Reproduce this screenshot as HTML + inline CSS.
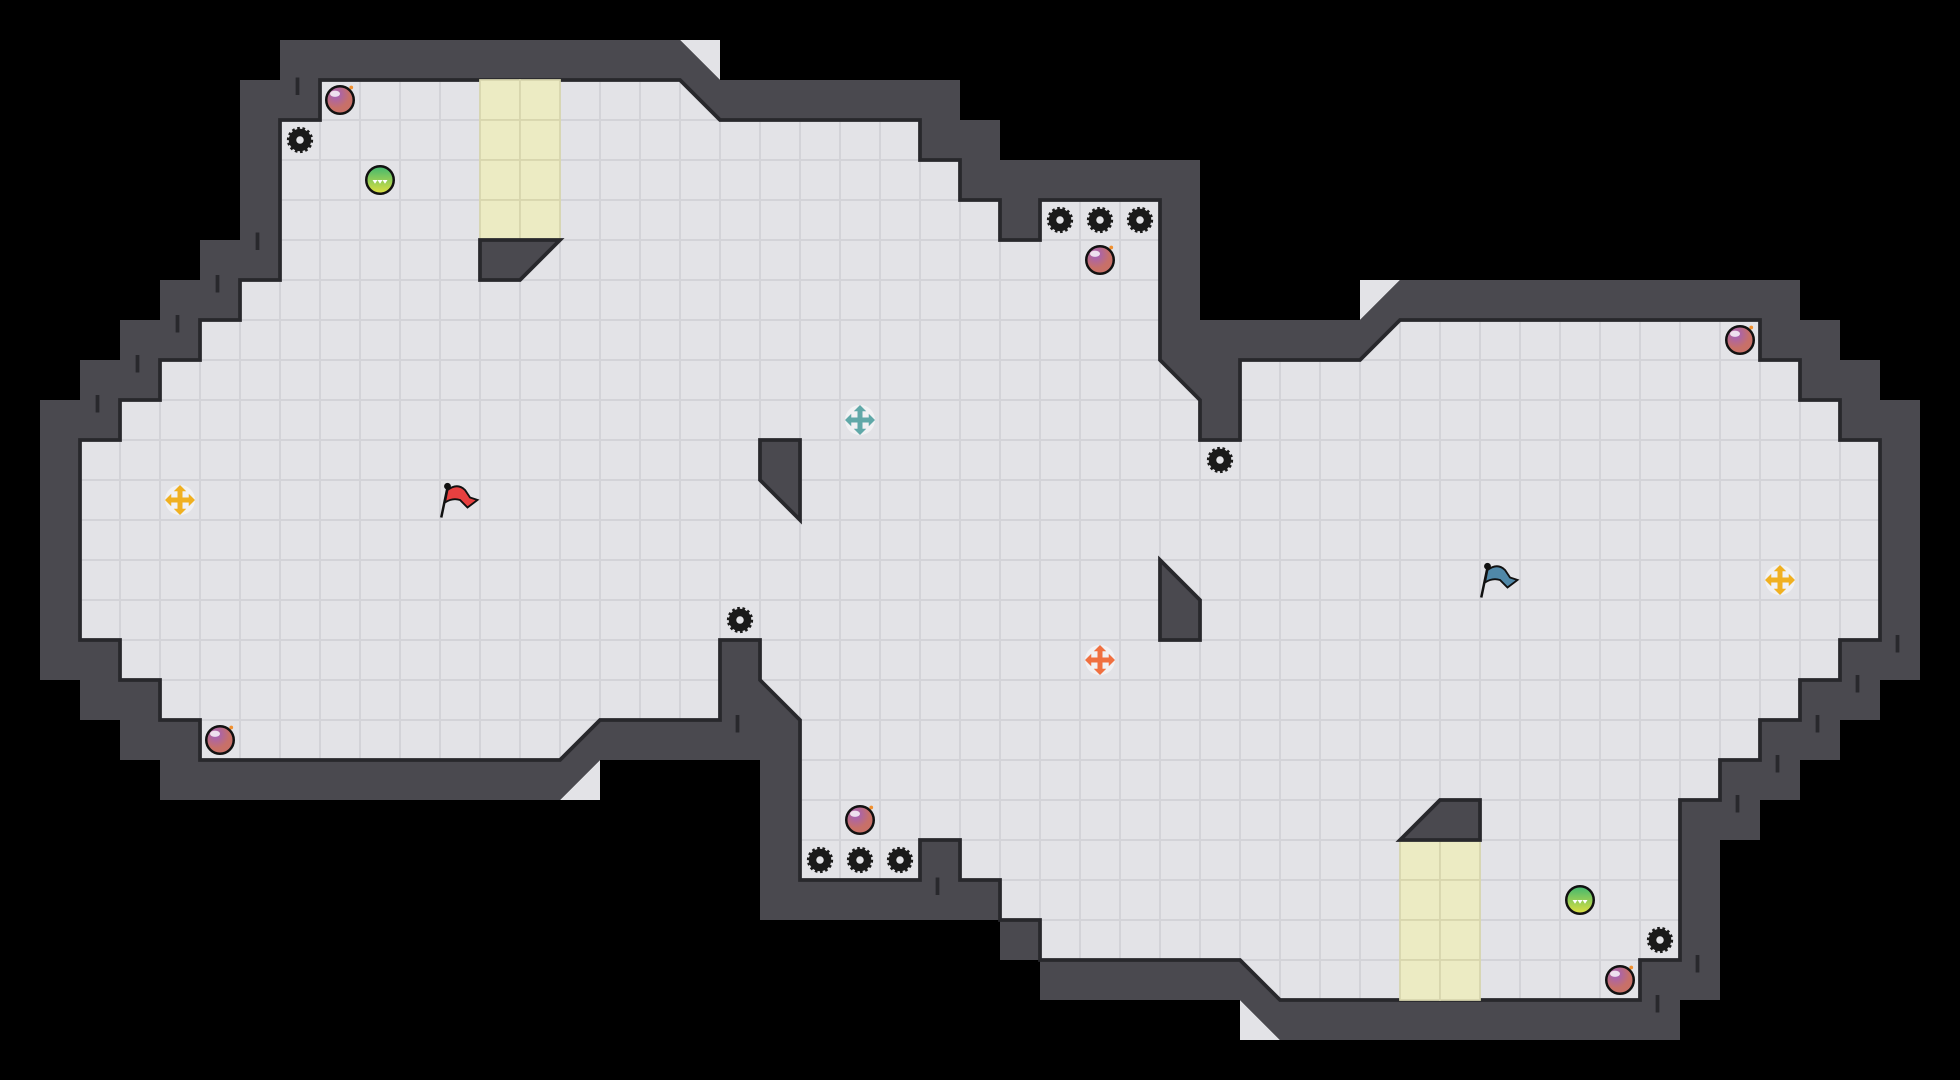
<!DOCTYPE html>
<html><head><meta charset="utf-8"><style>
html,body{margin:0;padding:0;background:#000;}
svg{display:block;}
</style></head><body>
<svg width="1960" height="1080" viewBox="0 0 1568 864" xmlns="http://www.w3.org/2000/svg">
<defs>
<pattern id="grid" width="32" height="32" patternUnits="userSpaceOnUse">
<rect width="32" height="32" fill="#e3e3e7"/>
<rect x="0" y="0" width="32" height="32" fill="none" stroke="#d3d3d8" stroke-width="1.6"/>
</pattern>
<g id="gear"><circle r="9" fill="#1a1a1a" stroke="#1a1a1a" stroke-width="3" stroke-dasharray="2 2"/><circle r="3" fill="#e3e3e7"/></g>
<radialGradient id="bomb" cx="0.35" cy="0.3"><stop offset="0" stop-color="#a060c0"/><stop offset="1" stop-color="#c87068"/></radialGradient>
<linearGradient id="ball" x1="0" y1="0" x2="0" y2="1"><stop offset="0" stop-color="#40b870"/><stop offset="1" stop-color="#e0e040"/></linearGradient>
<g id="bombg"><circle r="11" fill="url(#bomb)" stroke="#111" stroke-width="2"/><ellipse cx="-4" cy="-5" rx="4" ry="2.5" fill="#fff" opacity="0.8"/><circle cx="9" cy="-10" r="1.5" fill="#f09030"/></g>
<g id="ballg"><circle r="11" fill="url(#ball)" stroke="#111" stroke-width="2"/><path d="M-6 0 l2 3 l2 -3 l2 3 l2 -3 l2 3 l2 -3z" fill="#fff"/></g>
<g id="cross"><circle r="12" fill="#fff" opacity="0.5"/><path d="M0 -12 l-5 5 h3 v5 h-5 v-3 l-5 5 l5 5 v-3 h5 v5 h-3 l5 5 l5 -5 h-3 v-5 h5 v3 l5 -5 l-5 -5 v3 h-5 v-5 h3z"/></g>
</defs>
<rect width="1568" height="864" fill="#000"/>
<path d="M544 32 H576 V64Z M448 640 L480 608 V640Z M1088 256 L1120 224 H1088Z M992 800 L1024 832 H992Z" fill="#e3e3e7"/>
<path d="M224 32 H544 L576 64 H768 V96 H800 V128 H960 V256 H1088 L1120 224 H1440 V256 H1472 V288 H1504 V320 H1536 V544 H1504 V576 H1472 V608 H1440 V640 H1408 V672 H1376 V800 H1344 V832 H1024 L992 800 H832 V768 H800 V736 H608 V608 H480 L448 640 H128 V608 H96 V576 H64 V544 H32 V320 H64 V288 H96 V256 H128 V224 H160 V192 H192 V64 H224Z" fill="#4a494f"/>
<path d="M256 64 H544 L576 96 H736 V128 H768 V160 H800 V192 H832 V160 H928 V288 L960 320 V352 H992 V288 H1088 L1120 256 H1408 V288 H1440 V320 H1472 V352 H1504 V512 H1472 V544 H1440 V576 H1408 V608 H1376 V640 H1344 V768 H1312 V800 H1024 L992 768 H832 V736 H800 V704 H768 V672 H736 V704 H640 V576 L608 544 V512 H576 V576 H480 L448 608 H160 V576 H128 V544 H96 V512 H64 V352 H96 V320 H128 V288 H160 V256 H192 V224 H224 V96 H256Z" fill="url(#grid)" stroke="#28282c" stroke-width="3"/>
<g fill="#ecebc3" stroke="#d8d6ae" stroke-width="1.4">
<rect x="384" y="64" width="32" height="32"/><rect x="416" y="64" width="32" height="32"/>
<rect x="384" y="96" width="32" height="32"/><rect x="416" y="96" width="32" height="32"/>
<rect x="384" y="128" width="32" height="32"/><rect x="416" y="128" width="32" height="32"/>
<rect x="384" y="160" width="32" height="32"/><rect x="416" y="160" width="32" height="32"/>
<rect x="1120" y="672" width="32" height="32"/><rect x="1152" y="672" width="32" height="32"/>
<rect x="1120" y="704" width="32" height="32"/><rect x="1152" y="704" width="32" height="32"/>
<rect x="1120" y="736" width="32" height="32"/><rect x="1152" y="736" width="32" height="32"/>
<rect x="1120" y="768" width="32" height="32"/><rect x="1152" y="768" width="32" height="32"/>
</g>
<g fill="#4a494f" stroke="#28282c" stroke-width="3" stroke-linejoin="miter">
<path d="M384 192 H448 L416 224 H384Z"/>
<path d="M608 352 H640 V416 L608 384Z"/>
<path d="M928 448 L960 480 V512 H928Z"/>
<path d="M1152 640 H1184 V672 H1120Z"/>
</g>
<g stroke="#28282c" stroke-width="3">
<path d="M238 62 v14 M206 186 v14 M174 220 v14 M142 252 v14 M110 284 v14 M78 316 v14 M590 572 v14 M750 702 v14 M1358 764 v14 M1326 796 v14 M1518 508 v14 M1486 540 v14 M1454 572 v14 M1422 604 v14 M1390 636 v14"/>
</g>
<g>
<use href="#gear" x="240" y="112"/><use href="#gear" x="848" y="176"/><use href="#gear" x="880" y="176"/><use href="#gear" x="912" y="176"/>
<use href="#gear" x="976" y="368"/><use href="#gear" x="592" y="496"/><use href="#gear" x="656" y="688"/><use href="#gear" x="688" y="688"/>
<use href="#gear" x="720" y="688"/><use href="#gear" x="1328" y="752"/>
</g>
<g>
<use href="#bombg" x="272" y="80"/><use href="#bombg" x="880" y="208"/><use href="#bombg" x="1392" y="272"/>
<use href="#bombg" x="176" y="592"/><use href="#bombg" x="688" y="656"/><use href="#bombg" x="1296" y="784"/>
<use href="#ballg" x="304" y="144"/><use href="#ballg" x="1264" y="720"/>
</g>
<use href="#cross" x="144" y="400" fill="#f0b020"/>
<use href="#cross" x="1424" y="464" fill="#f0b020"/>
<use href="#cross" x="688" y="336" fill="#60a8a8"/>
<use href="#cross" x="880" y="528" fill="#f07040"/>
<g stroke="#111" stroke-width="1.5">
<path d="M358 390 L353 414" fill="none" stroke-width="2"/><circle cx="358" cy="389" r="2" fill="#111"/>
<path d="M358 392 Q366 386 372 392 L376 398 L382 400 L374 406 L368 400 Q362 398 356 402Z" fill="#e84040"/>
<path d="M1190 454 L1185 478" fill="none" stroke-width="2"/><circle cx="1190" cy="453" r="2" fill="#111"/>
<path d="M1190 456 Q1198 450 1204 456 L1208 462 L1214 464 L1206 470 L1200 464 Q1194 462 1188 466Z" fill="#5088a8"/>
</g>
</svg>
</body></html>
